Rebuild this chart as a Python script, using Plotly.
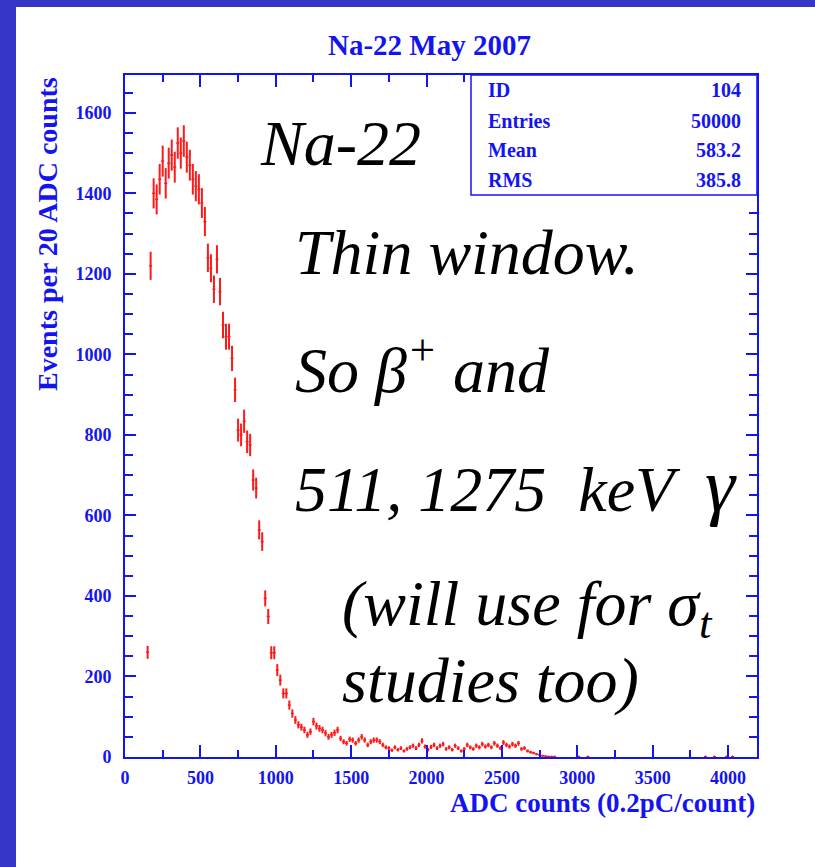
import numpy as np
import plotly.graph_objects as go

# ---- data: bin left edges (ADC counts, 20 per bin) and event counts ----
bin_lo = [140, 160, 180, 200, 220, 240, 260, 280, 300, 320, 340, 360, 380, 400, 420, 440, 460, 480,
          500, 520, 540, 560, 580, 600, 620, 640, 660, 680, 700, 720, 740, 760, 780, 800, 820, 840,
          860, 880, 900, 920, 940, 960, 980, 1000, 1020, 1040, 1060, 1080, 1100, 1120, 1140, 1160,
          1180, 1200, 1220, 1240, 1260, 1280, 1300, 1320, 1340, 1360, 1380, 1400, 1420, 1440, 1460,
          1480, 1500, 1520, 1540, 1560, 1580, 1600, 1620, 1640, 1660, 1680, 1700, 1720, 1740, 1760,
          1780, 1800, 1820, 1840, 1860, 1880, 1900, 1920, 1940, 1960, 1980, 2000, 2020, 2040, 2060,
          2080, 2100, 2120, 2140, 2160, 2180, 2200, 2220, 2240, 2260, 2280, 2300, 2320, 2340, 2360,
          2380, 2400, 2420, 2440, 2460, 2480, 2500, 2520, 2540, 2560, 2580, 2600, 2620, 2640, 2660,
          2680, 2700, 2720, 2740, 2760, 2780, 2800, 2820, 2840, 3000, 3060, 3840, 3900, 3980, 4020]
counts = [260, 1220, 1400, 1385, 1435, 1480, 1425, 1475, 1495, 1465, 1525, 1500, 1530, 1490, 1470,
          1435, 1418, 1410, 1376, 1330, 1240, 1214, 1162, 1236, 1156, 1073, 1044, 1044, 990, 912,
          812, 800, 834, 783, 775, 688, 668, 564, 535, 394, 349, 259, 259, 216, 191, 158, 158, 129,
          108, 92, 80, 74, 67, 55, 63, 88, 77, 71, 67, 59, 50, 55, 60, 67, 46, 38, 34, 44, 42, 34,
          42, 50, 42, 30, 38, 42, 42, 38, 30, 24, 22, 17, 24, 18, 22, 15, 20, 24, 28, 22, 30, 40,
          26, 18, 25, 30, 22, 28, 32, 20, 24, 18, 28, 22, 15, 20, 30, 24, 20, 28, 24, 32, 26, 30,
          24, 34, 28, 22, 36, 30, 26, 32, 28, 34, 20, 22, 15, 12, 10, 7, 5, 3, 2, 1, 1, 1, 1, 1,
          1, 1, 1, 1]

stat_labels = ["ID", "Entries", "Mean", "RMS"]
stat_values = ["104", "50000", "583.2", "385.8"]

title_text = "Na-22 May 2007"
x_title = "ADC counts (0.2pC/count)"
y_title = "Events per 20 ADC counts"

BLUE = "#1414f0"
BAND = "#3535c8"
RED = "#ff1a1a"
SERIF = "Liberation Serif"

centers = [b + 10 for b in bin_lo]
errs = [float(np.sqrt(c)) for c in counts]

W, H = 815, 867
L, R, T, B = 125, 757, 75, 757
pw, ph = R - L, B - T


def px(x):
    return (x - L) / pw


def py(y):
    return (B - y) / ph


fig = go.Figure()
fig.add_trace(go.Scatter(
    x=centers, y=counts, mode="markers",
    marker=dict(color=RED, size=2),
    error_y=dict(type="data", array=errs, color=RED, thickness=2, width=0),
    error_x=dict(type="constant", value=10, color=RED, thickness=1.3, width=0),
    showlegend=False, hoverinfo="x+y",
))

axfont = dict(family=SERIF, size=18, color=BLUE, weight="bold")
fig.update_xaxes(
    range=[0, 4192], showgrid=False, zeroline=False,
    showline=True, linecolor=BLUE, linewidth=2, mirror="ticks",
    ticks="inside", ticklen=12, tickwidth=1.5, tickcolor=BLUE,
    dtick=500, tick0=0, tickfont=axfont, ticklabelstandoff=3,
    minor=dict(dtick=250, ticks="inside", ticklen=7, tickcolor=BLUE, tickwidth=1.5),
)
fig.update_yaxes(
    range=[0, 1694], showgrid=False, zeroline=False,
    showline=True, linecolor=BLUE, linewidth=2, mirror="ticks",
    ticks="inside", ticklen=11, tickwidth=1.5, tickcolor=BLUE,
    dtick=200, tick0=0, tickfont=axfont, ticklabelstandoff=8,
    minor=dict(dtick=50, ticks="inside", ticklen=8, tickcolor=BLUE, tickwidth=1.5),
)

shapes = [
    dict(type="rect", xref="paper", yref="paper", x0=px(0), x1=px(16), y0=py(H), y1=py(0),
         fillcolor=BAND, line=dict(width=0), layer="above"),
    dict(type="rect", xref="paper", yref="paper", x0=px(0), x1=px(W), y0=py(7), y1=py(0),
         fillcolor=BAND, line=dict(width=0), layer="above"),
    dict(type="rect", xref="paper", yref="paper", x0=px(471), x1=px(757), y0=py(195), y1=py(75),
         fillcolor="white", line=dict(color=BLUE, width=1.5), layer="above"),
]

ann = []
ann.append(dict(text=title_text, xref="paper", yref="paper", x=px(429), y=py(45),
                xanchor="center", yanchor="middle", showarrow=False,
                font=dict(family=SERIF, size=29, color=BLUE, weight="bold")))
ann.append(dict(text=x_title, xref="paper", yref="paper", x=px(757), y=py(803),
                xanchor="right", yanchor="middle", showarrow=False,
                font=dict(family=SERIF, size=27, color=BLUE, weight="bold")))
ann.append(dict(text=y_title, xref="paper", yref="paper", x=px(47), y=py(75),
                xanchor="center", yanchor="top", textangle=-90, showarrow=False,
                font=dict(family=SERIF, size=28, color=BLUE, weight="bold")))

row_y = [90, 121, 150, 180]
for lab, val, yy in zip(stat_labels, stat_values, row_y):
    ann.append(dict(text=lab, xref="paper", yref="paper", x=px(486), y=py(yy),
                    xanchor="left", yanchor="middle", showarrow=False,
                    font=dict(family=SERIF, size=20, color=BLUE, weight="bold")))
    ann.append(dict(text=val, xref="paper", yref="paper", x=px(743), y=py(yy),
                    xanchor="right", yanchor="middle", showarrow=False,
                    font=dict(family=SERIF, size=20, color=BLUE, weight="bold")))

big = [
    ("<i>Na-22</i>", 258, 143),
    ("<i>Thin window.</i>", 293, 252),
    ("<i>So β<sup>+</sup> and</i>", 293, 366),
    ("<i>511, 1275 \u00a0keV \u00a0<span style='font-size:76px'>γ</span></i>", 293, 485),
    ("<i>(will use for σ<sub>t</sub></i>", 340, 608),
    ("<i>studies too)</i>", 340, 680),
]
for txt, xx, yy in big:
    ann.append(dict(text=txt, xref="paper", yref="paper", x=px(xx), y=py(yy),
                    xanchor="left", yanchor="middle", showarrow=False,
                    font=dict(family=SERIF, size=64, color="black")))

fig.update_layout(
    width=W, height=H, margin=dict(l=L, r=W - R, t=T, b=H - B),
    paper_bgcolor="white", plot_bgcolor="white",
    shapes=shapes, annotations=ann, showlegend=False,
)

fig.write_html("out.html")
